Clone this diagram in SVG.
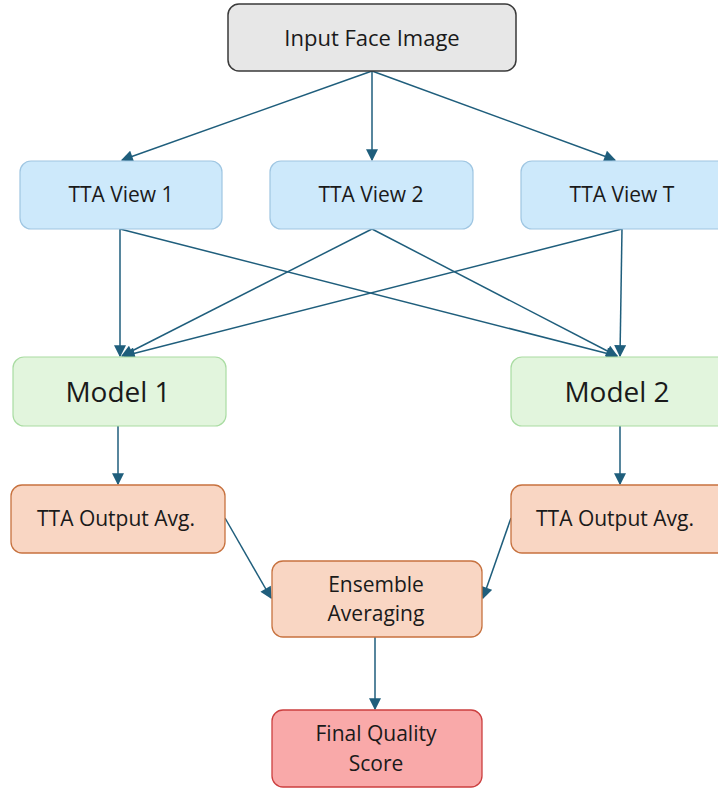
<svg xmlns="http://www.w3.org/2000/svg" width="718" height="792" viewBox="0 0 718 792">
  <style>
    text { font-family: "Open Sans", "Liberation Sans", Arial, sans-serif; fill: #1a1a1a; text-anchor: middle; dominant-baseline: central; }
    .t21 { font-size: 21px; }
    .t22 { font-size: 22px; }
    .t28 { font-size: 28px; }
    .input { fill: #e7e7e7; stroke: #3a3a3a; stroke-width: 1.5; }
    .view { fill: #cde9fb; stroke: #9fc6e2; stroke-width: 1.2; }
    .model { fill: #e2f5dd; stroke: #a9dca2; stroke-width: 1.2; }
    .avg { fill: #f9d6c3; stroke: #c7723f; stroke-width: 1.3; }
    .final { fill: #f9a9a9; stroke: #cc3f3f; stroke-width: 1.3; }
    .edge { stroke: #1f5e7c; stroke-width: 1.5; fill: none; marker-end: url(#arrow); }
  </style>
  <defs>
    <marker id="arrow" viewBox="0 0 10 10" refX="9" refY="5" markerWidth="13" markerHeight="12" markerUnits="userSpaceOnUse" orient="auto">
      <path d="M0,0 L10,5 L0,10 z" fill="#1f5e7c"/>
    </marker>
  </defs>

  <g id="connectors">
    <line class="edge" x1="372" y1="71" x2="122" y2="160"/>
    <line class="edge" x1="372" y1="71" x2="372" y2="160"/>
    <line class="edge" x1="372" y1="71" x2="615" y2="160"/>

    <line class="edge" x1="120" y1="229" x2="120" y2="356"/>
    <line class="edge" x1="120" y1="229" x2="617" y2="356"/>
    <line class="edge" x1="372" y1="229" x2="122" y2="356"/>
    <line class="edge" x1="372" y1="229" x2="617" y2="356"/>
    <line class="edge" x1="622" y1="229" x2="124" y2="356"/>
    <line class="edge" x1="622" y1="229" x2="620" y2="356"/>

    <line class="edge" x1="118" y1="426" x2="118" y2="484"/>
    <line class="edge" x1="620" y1="426" x2="620" y2="484"/>

    <line class="edge" x1="225" y1="518" x2="271" y2="598"/>
    <line class="edge" x1="511" y1="518" x2="483" y2="598"/>

    <line class="edge" x1="375" y1="637" x2="375" y2="709"/>
  </g>

  <g id="input-face-image">
    <rect class="input" x="228" y="4" width="288" height="67" rx="11"/>
    <text class="t22" x="372" y="37">Input Face Image</text>
  </g>

  <g id="tta-view-1">
    <rect class="view" x="20" y="161" width="202" height="68" rx="11"/>
    <text class="t21" x="121" y="194">TTA View 1</text>
  </g>
  <g id="tta-view-2">
    <rect class="view" x="270" y="161" width="203" height="68" rx="11"/>
    <text class="t21" x="371" y="194">TTA View 2</text>
  </g>
  <g id="tta-view-t">
    <rect class="view" x="521" y="161" width="210" height="68" rx="11"/>
    <text class="t21" x="622" y="194">TTA View T</text>
  </g>

  <g id="model-1">
    <rect class="model" x="13" y="357" width="213" height="69" rx="11"/>
    <text class="t28" x="118" y="391">Model 1</text>
  </g>
  <g id="model-2">
    <rect class="model" x="511" y="357" width="220" height="69" rx="11"/>
    <text class="t28" x="617" y="391">Model 2</text>
  </g>

  <g id="tta-output-avg-1">
    <rect class="avg" x="11" y="485" width="214" height="68" rx="11"/>
    <text class="t21" x="116" y="518">TTA Output Avg.</text>
  </g>
  <g id="tta-output-avg-2">
    <rect class="avg" x="511" y="485" width="220" height="68" rx="11"/>
    <text class="t21" x="615" y="518">TTA Output Avg.</text>
  </g>

  <g id="ensemble-averaging">
    <rect class="avg" x="272" y="561" width="210" height="76" rx="11"/>
    <text class="t21" x="376" y="584">Ensemble</text>
    <text class="t21" x="376" y="613">Averaging</text>
  </g>

  <g id="final-quality-score">
    <rect class="final" x="272" y="710" width="210" height="77" rx="11"/>
    <text class="t21" x="376" y="733">Final Quality</text>
    <text class="t21" x="376" y="763">Score</text>
  </g>
</svg>
